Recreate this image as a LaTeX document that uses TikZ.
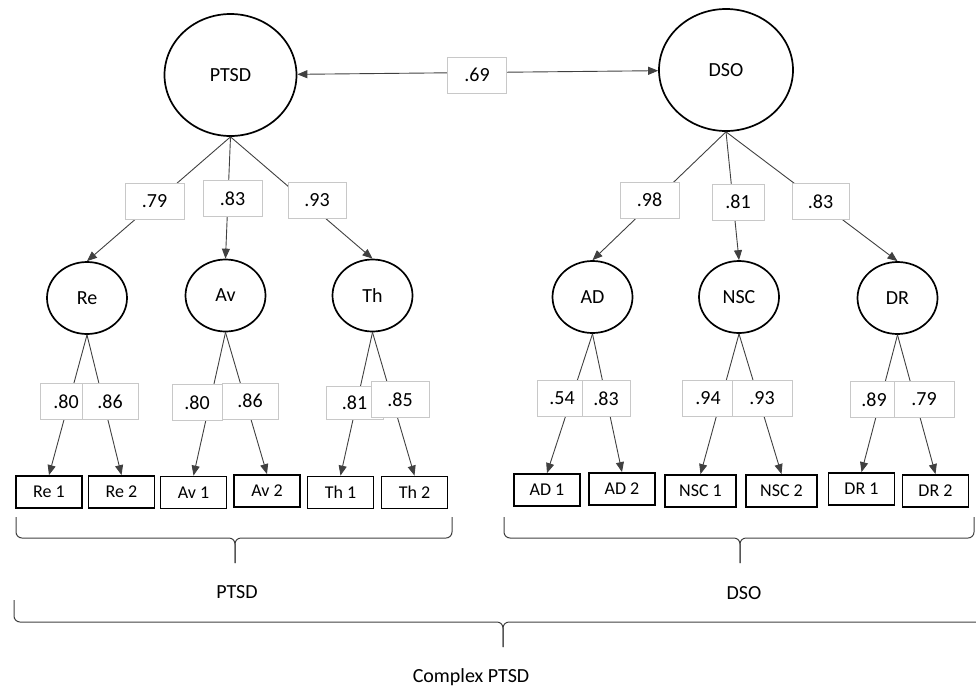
\documentclass[tikz,border=0pt]{standalone}
\usepackage{fontspec}
\setmainfont{Carlito}
\usetikzlibrary{arrows.meta, shapes.geometric}
\definecolor{linegray}{HTML}{404040}
\definecolor{boxgray}{HTML}{C8C8C8}

\begin{document}
\begin{tikzpicture}[
      x=1pt, y=-1pt,
      latent/.style={draw, ellipse, line width=1.7pt, minimum width=132pt,
                     minimum height=122pt, inner sep=0pt,
                     font=\fontsize{20}{24}\selectfont},
      factor/.style={draw, ellipse, line width=1.7pt, minimum width=80pt,
                     minimum height=72pt, inner sep=0pt,
                     font=\fontsize{20}{24}\selectfont},
      item/.style={draw, line width=1.8pt, minimum width=66pt,
                   minimum height=32pt, inner sep=0pt,
                   font=\fontsize{18}{22}\selectfont},
      load/.style={draw=boxgray, fill=white, minimum width=56pt,
                   minimum height=36pt, inner sep=0pt,
                   font=\fontsize{20}{24}\selectfont},
      arr/.style={-{Triangle[length=10pt, width=8pt]}, linegray, line width=0.9pt},
      curly/.style={draw=linegray, line width=1pt, rounded corners=6pt},
      caption/.style={font=\fontsize{20}{24}\selectfont},
    ]
    \clip (0,0) rectangle (976,691);

    % Second-order factors
    \node[latent] (ptsd) at (230.5,75) {PTSD};
    \node[latent, minimum width=134pt] (dso) at (726,70) {DSO};

    % First-order factors
    \node[factor] (re)  at (87,298)      {Re};
    \node[factor] (av)  at (225.5,295.5) {Av};
    \node[factor] (th)  at (372.5,295.5) {Th};
    \node[factor] (ad)  at (592.5,297)   {AD};
    \node[factor] (nsc) at (739,297)     {NSC};
    \node[factor] (dr)  at (897.5,298)   {DR};

    % Indicators
    \node[item] (re1)  at (49,492)     {Re 1};
    \node[item] (re2)  at (121.5,492)  {Re 2};
    \node[item] (av1)  at (193.5,492.5) {Av 1};
    \node[item] (av2)  at (267,491)    {Av 2};
    \node[item] (th1)  at (340.5,492.5) {Th 1};
    \node[item] (th2)  at (414.5,492.5) {Th 2};
    \node[item] (ad1)  at (547,490)    {AD 1};
    \node[item] (ad2)  at (622,489)    {AD 2};
    \node[item, minimum width=71pt] (nsc1) at (700.5,491) {NSC 1};
    \node[item, minimum width=71pt] (nsc2) at (781.5,491) {NSC 2};
    \node[item] (dr1)  at (861.5,489)  {DR 1};
    \node[item] (dr2)  at (935.5,491)  {DR 2};

    % Correlation between second-order factors
    \draw[arr, {Triangle[length=10pt, width=8pt]}-{Triangle[length=10pt, width=8pt]}]
      (ptsd) -- (dso);

    % Second-order loadings
    \draw[arr] (ptsd.south) -- (re.north);
    \draw[arr] (ptsd.south) -- (av.north);
    \draw[arr] (ptsd.south) -- (th.north);
    \draw[arr] (dso.south)  -- (ad.north);
    \draw[arr] (dso.south)  -- (nsc.north);
    \draw[arr] (dso.south)  -- (dr.north);

    % First-order loadings
    \draw[arr] (re.south)  -- (re1.north);
    \draw[arr] (re.south)  -- (re2.north);
    \draw[arr] (av.south)  -- (av1.north);
    \draw[arr] (av.south)  -- (av2.north);
    \draw[arr] (th.south)  -- (th1.north);
    \draw[arr] (th.south)  -- (th2.north);
    \draw[arr] (ad.south)  -- (ad1.north);
    \draw[arr] (ad.south)  -- (ad2.north);
    \draw[arr] (nsc.south) -- (nsc1.north);
    \draw[arr] (nsc.south) -- (nsc2.north);
    \draw[arr] (dr.south)  -- (dr1.north);
    \draw[arr] (dr.south)  -- (dr2.north);

    % Coefficient boxes (drawn over the lines)
    \node[load, minimum width=59pt] (r69) at (477,75) {.69};
    \node[load, minimum width=59pt] (r79) at (154.5,201)   {.79};
    \node[load, minimum width=59pt] (r83) at (232.5,198.5) {.83};
    \node[load, minimum width=58pt] (r93) at (317,200)     {.93};
    \node[load, minimum width=59pt] (r98) at (649.5,200)   {.98};
    \node[load, minimum width=52pt] (r81) at (738,202)     {.81};
    \node[load, minimum width=57pt] (r83b) at (820.5,201.5) {.83};

    \node[load, minimum width=52pt] (lre1)  at (66,401.5)  {.80};
    \node[load, minimum width=56pt] (lre2)  at (110,401.5) {.86};
    \node[load, minimum width=50pt] (lav1)  at (197,402.5) {.80};
    \node[load, minimum width=56pt] (lav2)  at (250,401)   {.86};
    \node[load, minimum width=57pt, minimum height=33pt] (lth1) at (354.5,402.5) {.81};
    \node[load, minimum width=58pt] (lth2)  at (400,399.5) {.85};
    \node[load, minimum width=50pt] (lad1)  at (562,398.5) {.54};
    \node[load, minimum width=48pt] (lad2)  at (606,398.5) {.83};
    \node[load, minimum width=52pt] (lnsc1) at (708,398.5) {.94};
    \node[load, minimum width=60pt] (lnsc2) at (762,398.5) {.93};
    \node[load, minimum width=48pt] (ldr1)  at (874,399.5) {.89};
    \node[load, minimum width=60pt] (ldr2)  at (924,399.5) {.79};

    % Braces and group names
    \coordinate (ptsdtip) at (235,563);
    \coordinate (dsotip)  at (740,563);
    \coordinate (cptip)   at (503,647);
    \draw[curly] (16,517)  |- (235,538) -- (ptsdtip);
    \draw[curly] (452,517) |- (235,538) -- (ptsdtip);
    \draw[curly] (504,517) |- (740,538) -- (dsotip);
    \draw[curly] (974,517) |- (740,538) -- (dsotip);
    \draw[curly] (14,600)  |- (503,622) -- (cptip);
    \draw[curly] (995,600) |- (503,622) -- (cptip);

    \node[caption] (gptsd) at (237,592) {PTSD};
    \node[caption] (gdso)  at (744,593) {DSO};
    \node[caption] (gcp)   at (471,677) {Complex PTSD};
  \end{tikzpicture}
\end{document}
